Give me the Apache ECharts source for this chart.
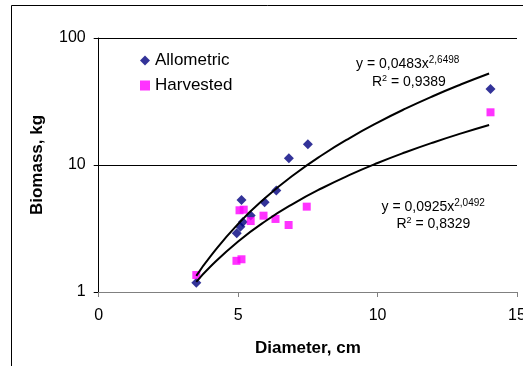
<!DOCTYPE html>
<html>
<head>
<meta charset="utf-8">
<script src="https://cdn.jsdelivr.net/npm/echarts@6/dist/echarts.min.js"></script>
<style>
  html, body { margin: 0; padding: 0; background: #fff; }
  #chart { width: 523px; height: 366px; }
</style>
</head>
<body>
<div id="chart"></div>
<script>
// measured points (diameter cm, biomass kg)
const allomX = [3.5, 4.95, 5.08, 5.12, 5.17, 5.45, 5.95, 6.37, 6.82, 7.5, 14.05];
const allomY = [1.18, 2.9, 3.27, 5.3, 3.55, 4.0, 5.1, 6.3, 11.3, 14.6, 39.7];
const harvX = [3.5, 4.94, 5.12, 5.05, 5.2, 5.45, 5.91, 6.34, 6.81, 7.46, 14.05];
const harvY = [1.36, 1.76, 1.81, 4.4, 4.45, 3.62, 3.99, 3.76, 3.37, 4.7, 26.0];

// power trend lines as drawn in the picture
const trendX = [3.5, 4, 5, 6, 7, 8, 9, 10, 11, 12, 13, 14];
const allomFit = [1.34, 1.90, 3.44, 5.57, 8.38, 11.94, 16.31, 21.56, 27.76, 34.96, 43.2, 52.58];
const harvFit = [1.2, 1.58, 2.5, 3.64, 4.99, 6.56, 8.35, 10.36, 12.59, 15.05, 17.73, 20.65];

const xTicks = [0, 5, 10, 15];
const yTicks = [1, 10, 100];

const FONT = 'Liberation Sans';
const pair = (xs, ys) => xs.map((x, i) => [x, ys[i]]);

const chart = echarts.init(document.getElementById('chart'));

chart.setOption({
  animation: false,
  backgroundColor: '#fff',
  textStyle: { fontFamily: FONT, color: '#000' },
  grid: { left: 98.7, right: 6, top: 38, bottom: 74, outerBoundsMode: 'none', containLabel: false },
  legend: {
    data: ['Allometric', 'Harvested'],
    orient: 'vertical',
    left: 135,
    top: 47,
    itemWidth: 10,
    itemHeight: 10,
    itemGap: 8,
    textStyle: { fontSize: 17, fontFamily: FONT, color: '#000' }
  },
  xAxis: {
    type: 'value',
    min: xTicks[0],
    max: xTicks[xTicks.length - 1],
    interval: 5,
    name: 'Diameter, cm',
    nameLocation: 'middle',
    nameGap: 48,
    nameTextStyle: { fontSize: 17, fontWeight: 'bold', fontFamily: FONT, color: '#000' },
    axisLine: { lineStyle: { color: '#808080', width: 1 } },
    axisTick: { show: true, inside: false, length: 5, lineStyle: { color: '#808080' } },
    axisLabel: { fontSize: 16, margin: 16, color: '#000', fontFamily: FONT },
    splitLine: { show: false }
  },
  yAxis: {
    type: 'log',
    logBase: 10,
    min: yTicks[0],
    max: yTicks[yTicks.length - 1],
    name: 'Biomass, kg',
    nameLocation: 'middle',
    nameGap: 53,
    nameTextStyle: { fontSize: 17, fontWeight: 'bold', fontFamily: FONT, color: '#000' },
    axisLine: { show: true, lineStyle: { color: '#000', width: 1 } },
    axisTick: { show: true, inside: false, length: 5, lineStyle: { color: '#000' } },
    minorTick: { show: false },
    axisLabel: { fontSize: 16, margin: 13, color: '#000', fontFamily: FONT },
    splitLine: { show: true, lineStyle: { color: '#000', width: 1 } }
  },
  graphic: [
    {
      type: 'polyline',
      shape: { points: [[11.5, 366], [11.5, 5.5], [523, 5.5]] },
      style: { stroke: '#000', lineWidth: 1, fill: null },
      silent: true
    },
    {
      type: 'text',
      left: 356,
      top: 55,
      style: {
        text: '{a|y = 0,0483x}{b|2,6498}',
        rich: {
          a: { fontSize: 14, fontFamily: FONT, fill: '#000' },
          b: { fontSize: 10, fontFamily: FONT, fill: '#000', padding: [0, 0, 9, 0] }
        }
      }
    },
    {
      type: 'text',
      left: 372,
      top: 74,
      style: {
        text: '{a|R}{b|2}{a| = 0,9389}',
        rich: {
          a: { fontSize: 14, fontFamily: FONT, fill: '#000' },
          b: { fontSize: 9, fontFamily: FONT, fill: '#000', padding: [0, 0, 8, 0] }
        }
      }
    },
    {
      type: 'text',
      left: 381.5,
      top: 198,
      style: {
        text: '{a|y = 0,0925x}{b|2,0492}',
        rich: {
          a: { fontSize: 14, fontFamily: FONT, fill: '#000' },
          b: { fontSize: 10, fontFamily: FONT, fill: '#000', padding: [0, 0, 9, 0] }
        }
      }
    },
    {
      type: 'text',
      left: 396.5,
      top: 216,
      style: {
        text: '{a|R}{b|2}{a| = 0,8329}',
        rich: {
          a: { fontSize: 14, fontFamily: FONT, fill: '#000' },
          b: { fontSize: 9, fontFamily: FONT, fill: '#000', padding: [0, 0, 8, 0] }
        }
      }
    }
  ],
  series: [
    {
      name: 'Allometric',
      type: 'scatter',
      symbol: 'diamond',
      symbolSize: 10,
      itemStyle: { color: '#000080' },
      data: pair(allomX, allomY),
      z: 2
    },
    {
      name: 'Harvested',
      type: 'scatter',
      symbol: 'rect',
      symbolSize: 8,
      itemStyle: { color: '#FF00FF' },
      data: pair(harvX, harvY),
      z: 2
    },
    {
      name: 'Allometric fit',
      type: 'line',
      showSymbol: false,
      smooth: true,
      lineStyle: { color: '#000', width: 2 },
      data: pair(trendX, allomFit),
      z: 3
    },
    {
      name: 'Harvested fit',
      type: 'line',
      showSymbol: false,
      smooth: true,
      lineStyle: { color: '#000', width: 2 },
      data: pair(trendX, harvFit),
      z: 3
    }
  ]
});
</script>
</body>
</html>
